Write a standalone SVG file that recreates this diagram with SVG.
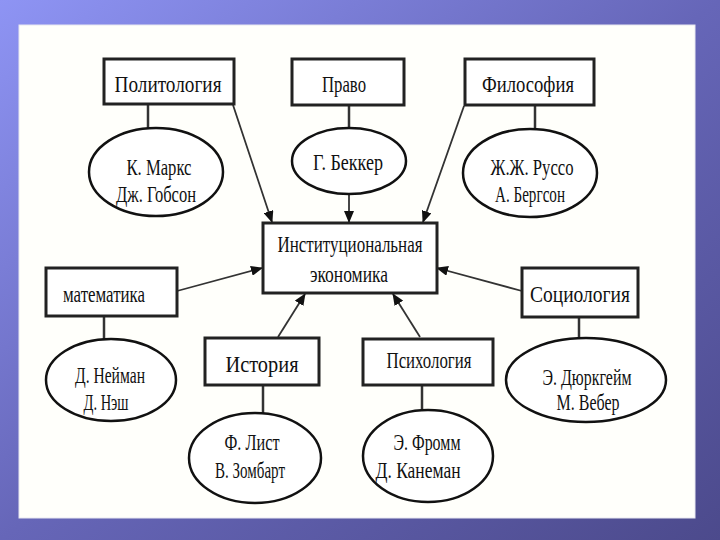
<svg xmlns="http://www.w3.org/2000/svg" width="720" height="540" viewBox="0 0 720 540">
<defs>
<linearGradient id="bg" x1="0" y1="0" x2="1" y2="1">
<stop offset="0" stop-color="#8e94f4"/>
<stop offset="0.5" stop-color="#6666b8"/>
<stop offset="1" stop-color="#4c4a8c"/>
</linearGradient>
<marker id="arr" markerWidth="12" markerHeight="10" refX="11" refY="5" orient="auto" markerUnits="userSpaceOnUse">
<path d="M0,0 L12,5 L0,10 z" fill="#111"/>
</marker>
<style>
.box{fill:#fff;stroke:#222;stroke-width:3}
.ell{fill:#fff;stroke:#111;stroke-width:2.5}
.t{font-family:"Liberation Serif","Times New Roman",serif;font-size:24px;fill:#111;text-anchor:middle}
.c{stroke:#333;stroke-width:1.8;fill:none}
.v{stroke:#333;stroke-width:2.5;fill:none}
.a{stroke:#333;stroke-width:1.8;fill:none;marker-end:url(#arr)}
</style>
</defs>
<rect x="0" y="0" width="720" height="540" fill="url(#bg)"/>
<rect x="19" y="25" width="676" height="493" fill="#fffffb" stroke="#e8e8f0" stroke-width="1"/>

<g id="connectors">
<line class="v" x1="148" y1="104" x2="148" y2="128"/>
<line class="v" x1="349" y1="105" x2="349" y2="128"/>
<line class="v" x1="535" y1="105" x2="535" y2="130"/>
<line class="v" x1="104" y1="316" x2="104" y2="339"/>
<line class="v" x1="579" y1="317" x2="579" y2="338"/>
<line class="v" x1="263" y1="385" x2="263" y2="413"/>
<line class="v" x1="422" y1="385" x2="422" y2="410"/>
<line class="a" x1="233" y1="105" x2="272" y2="222"/>
<line class="a" x1="349" y1="194" x2="349" y2="222"/>
<line class="a" x1="464" y1="106" x2="423" y2="222"/>
<line class="a" x1="177" y1="291" x2="262" y2="268"/>
<line class="a" x1="522" y1="291" x2="437" y2="268"/>
<line class="a" x1="278" y1="337" x2="305" y2="294"/>
<line class="a" x1="420" y1="337" x2="393" y2="294"/>
</g>

<g id="n-center">
<rect class="box" x="263" y="223" width="174" height="70"/>
<text class="t" x="350" y="252" textLength="145" lengthAdjust="spacingAndGlyphs">Институциональная</text>
<text class="t" x="349" y="282" textLength="78" lengthAdjust="spacingAndGlyphs">экономика</text>
</g>

<g id="n-politologiya">
<rect class="box" x="104" y="59" width="130" height="45"/>
<text class="t" x="168" y="92" textLength="107" lengthAdjust="spacingAndGlyphs">Политология</text>
</g>
<g id="n-pravo">
<rect class="box" x="292" y="59" width="112" height="46"/>
<text class="t" x="344" y="92" textLength="44" lengthAdjust="spacingAndGlyphs">Право</text>
</g>
<g id="n-filosofiya">
<rect class="box" x="465" y="59" width="129" height="46"/>
<text class="t" x="528" y="92" textLength="92" lengthAdjust="spacingAndGlyphs">Философия</text>
</g>
<g id="n-matematika">
<rect class="box" x="46" y="268" width="131" height="48"/>
<text class="t" x="104" y="302" textLength="82" lengthAdjust="spacingAndGlyphs">математика</text>
</g>
<g id="n-sociologiya">
<rect class="box" x="522" y="268" width="116" height="49"/>
<text class="t" x="580" y="302" textLength="100" lengthAdjust="spacingAndGlyphs">Социология</text>
</g>
<g id="n-istoriya">
<rect class="box" x="205" y="338" width="114" height="47"/>
<text class="t" x="262" y="372" textLength="73" lengthAdjust="spacingAndGlyphs">История</text>
</g>
<g id="n-psihologiya">
<rect class="box" x="363" y="339" width="130" height="46"/>
<text class="t" x="429" y="368" textLength="85" lengthAdjust="spacingAndGlyphs">Психология</text>
</g>

<g id="n-marks">
<ellipse class="ell" cx="156" cy="172" rx="67" ry="44"/>
<text class="t" x="159" y="175" textLength="65" lengthAdjust="spacingAndGlyphs">К. Маркс</text>
<text class="t" x="156" y="202" textLength="80" lengthAdjust="spacingAndGlyphs">Дж. Гобсон</text>
</g>
<g id="n-bekker">
<ellipse class="ell" cx="349" cy="161" rx="57" ry="33"/>
<text class="t" x="348" y="170" textLength="70" lengthAdjust="spacingAndGlyphs">Г. Беккер</text>
</g>
<g id="n-russo">
<ellipse class="ell" cx="530" cy="173" rx="67" ry="44"/>
<text class="t" x="532" y="175" textLength="83" lengthAdjust="spacingAndGlyphs">Ж.Ж. Руссо</text>
<text class="t" x="530" y="202" textLength="70" lengthAdjust="spacingAndGlyphs">А. Бергсон</text>
</g>
<g id="n-neyman">
<ellipse class="ell" cx="111" cy="380" rx="65" ry="41"/>
<text class="t" x="110" y="383" textLength="70" lengthAdjust="spacingAndGlyphs">Д. Нейман</text>
<text class="t" x="106" y="410" textLength="45" lengthAdjust="spacingAndGlyphs">Д. Нэш</text>
</g>
<g id="n-durkheim">
<ellipse class="ell" cx="586" cy="380" rx="80" ry="42"/>
<text class="t" x="587" y="385" textLength="89" lengthAdjust="spacingAndGlyphs">Э. Дюркгейм</text>
<text class="t" x="588" y="410" textLength="63" lengthAdjust="spacingAndGlyphs">М. Вебер</text>
</g>
<g id="n-list">
<ellipse class="ell" cx="255" cy="458" rx="66" ry="45"/>
<text class="t" x="252" y="450" textLength="55" lengthAdjust="spacingAndGlyphs">Ф. Лист</text>
<text class="t" x="250" y="478" textLength="70" lengthAdjust="spacingAndGlyphs">В. Зомбарт</text>
</g>
<g id="n-fromm">
<ellipse class="ell" cx="428" cy="456" rx="65" ry="46"/>
<text class="t" x="427" y="450" textLength="67" lengthAdjust="spacingAndGlyphs">Э. Фромм</text>
<text class="t" x="418" y="478" textLength="85" lengthAdjust="spacingAndGlyphs">Д. Канеман</text>
</g>
</svg>
